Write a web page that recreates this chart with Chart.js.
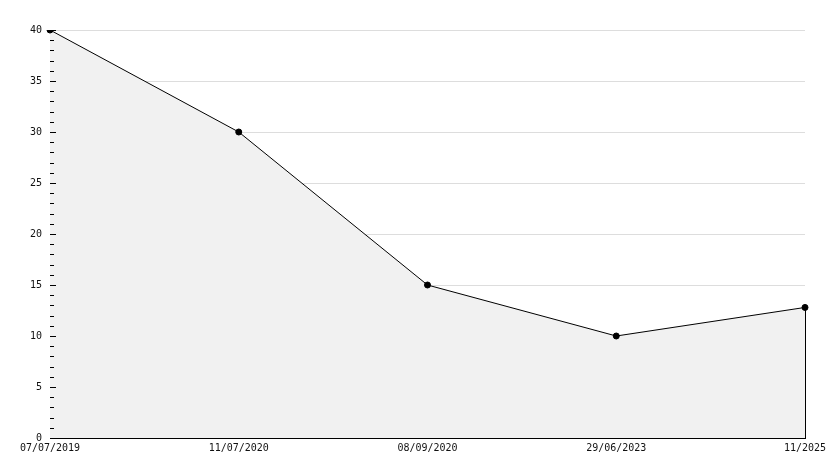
<!DOCTYPE html>
<html>
<head>
<meta charset="utf-8">
<script src="https://cdn.jsdelivr.net/npm/chart.js@4"></script>
<style>
  html, body { margin: 0; padding: 0; background: #fff; }
  #wrap { width: 834px; height: 468px; }
</style>
</head>
<body>
<div id="wrap"><canvas id="lineChart"></canvas></div>
<script>
// values
var dates = ['07/07/2019', '11/07/2020', '08/09/2020', '29/06/2023', '11/2025'];
var values = [40, 30, 15, 10, 12.8];
var yTicks = [0, 5, 10, 15, 20, 25, 30, 35, 40];

// small inward tick marks on the y axis + right edge of the filled area
var tickMarks = {
    id: 'tickMarks',
    afterDatasetsDraw: function(chart) {
        var ctx = chart.ctx;
        var y = chart.scales.y;
        var x = chart.scales.x;
        var left = chart.chartArea.left;
        ctx.save();
        ctx.strokeStyle = '#000';
        ctx.lineWidth = 1;
        for (var v = 0; v <= 40; v++) {
            var py = Math.round(y.getPixelForValue(v)) + 0.5;
            var len = (v % 5 === 0) ? 6 : 4;
            ctx.beginPath();
            ctx.moveTo(left, py);
            ctx.lineTo(left + len, py);
            ctx.stroke();
        }
        var last = values.length - 1;
        var px = Math.round(x.getPixelForValue(last)) + 0.5;
        ctx.beginPath();
        ctx.moveTo(px, y.getPixelForValue(values[last]));
        ctx.lineTo(px, y.getPixelForValue(0));
        ctx.stroke();
        ctx.restore();
    }
};

document.addEventListener('DOMContentLoaded', function() {
    var ctx = document.getElementById('lineChart').getContext('2d');

    new Chart(ctx, {
        type: 'line',
        data: {
            labels: dates,
            datasets: [{
                data: values,
                borderColor: '#000',
                borderWidth: 1,
                backgroundColor: '#f1f1f1',
                fill: 'origin',
                tension: 0,
                pointRadius: 3,
                pointStyle: 'circle',
                pointBackgroundColor: '#000',
                pointBorderColor: '#000'
            }]
        },
        options: {
            responsive: true,
            maintainAspectRatio: false,
            animation: false,
            layout: {
                padding: { left: 0, right: 29, top: 30, bottom: 0 }
            },
            scales: {
                x: {
                    offset: false,
                    grid: { display: false, drawTicks: false },
                    border: { display: true, color: '#000', width: 1 },
                    ticks: {
                        padding: 4,
                        maxRotation: 0,
                        autoSkip: false,
                        color: '#111',
                        font: { family: 'DejaVu Sans Mono', size: 10 }
                    },
                    afterFit: function(scale) { scale.height = 30; }
                },
                y: {
                    min: 0,
                    max: 40,
                    afterBuildTicks: function(scale) {
                        scale.ticks = yTicks.map(function(v) { return { value: v }; });
                    },
                    grid: {
                        color: '#dddddd',
                        drawTicks: false
                    },
                    border: { display: true, color: '#000', width: 1 },
                    ticks: {
                        padding: 8,
                        color: '#111',
                        font: { family: 'DejaVu Sans Mono', size: 10 }
                    },
                    afterFit: function(scale) { scale.width = 50; }
                }
            },
            plugins: {
                legend: { display: false },
                tooltip: { enabled: false }
            }
        },
        plugins: [tickMarks]
    });
});
</script>
</body>
</html>
